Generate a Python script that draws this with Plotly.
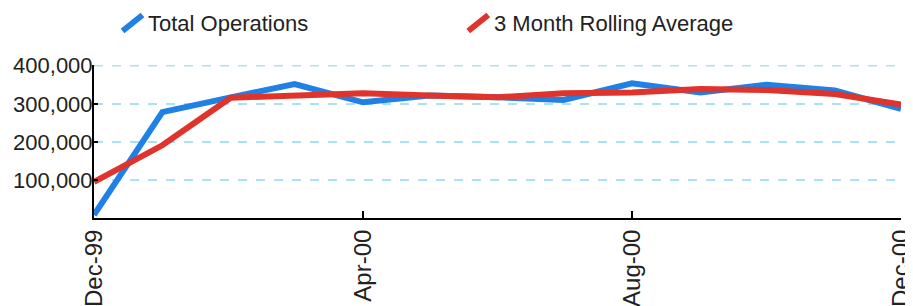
import plotly.graph_objects as go

months = ["1999-12-01", "2000-01-01", "2000-02-01", "2000-03-01", "2000-04-01",
          "2000-05-01", "2000-06-01", "2000-07-01", "2000-08-01", "2000-09-01",
          "2000-10-01", "2000-11-01", "2000-12-01"]
total_operations = [8000, 278000, 317000, 352000, 304000, 322000, 317000,
                    310000, 354000, 330000, 350000, 335000, 287000]
rolling_average = [95000, 191000, 316000, 322000, 328000, 322000, 317000,
                   328000, 330000, 339000, 336000, 326000, 298000]
x_tick_vals = ["1999-12-01", "2000-04-01", "2000-08-01", "2000-12-01"]
x_tick_text = ["Dec-99", "Apr-00", "Aug-00", "Dec-00"]
y_tick_vals = [100000, 200000, 300000, 400000]
y_tick_text = ["100,000", "200,000", "300,000", "400,000"]

BLUE = "#1f80e6"
RED = "#e0332b"
GRID = "#a9e3ef"
FONT = "Liberation Sans, Arial, sans-serif"

fig = go.Figure()
fig.add_trace(go.Scatter(x=months, y=total_operations, mode="lines",
                         name="Total Operations",
                         line=dict(color=BLUE, width=6)))
fig.add_trace(go.Scatter(x=months, y=rolling_average, mode="lines",
                         name="3 Month Rolling Average",
                         line=dict(color=RED, width=6)))

# page body has an 8px margin; compensate so the picture lines up
OFF = 8
W, H = 913 - OFF, 306 - OFF
L, R, T, B = 93.5 - OFF, 12, 65 - OFF, 88
pw, ph = W - L - R, H - T - B

def px(xp):
    return (xp - OFF - L) / pw

def py(yp):
    return (H - B - (yp - OFF)) / ph

# custom legend (slanted stroke icons)
legend_items = [("Total Operations", BLUE, 122, 142, 146),
                ("3 Month Rolling Average", RED, 468, 488, 492)]
for label, col, x1, x2, xt in legend_items:
    fig.add_shape(type="line", xref="paper", yref="paper",
                  x0=px(x1), y0=py(31), x1=px(x2), y1=py(15),
                  line=dict(color=col, width=6))
    fig.add_annotation(text=label, xref="paper", yref="paper",
                       x=px(xt), y=py(23), xanchor="left", yanchor="middle",
                       showarrow=False,
                       font=dict(family=FONT, size=22, color="#222222"))

# top gridline (Plotly drops the one at the range edge)
fig.add_shape(type="line", xref="paper", yref="y", layer="below",
              x0=0, x1=1, y0=y_tick_vals[-1], y1=y_tick_vals[-1],
              line=dict(color=GRID, width=1.5, dash="dash"))

fig.update_layout(
    width=W, height=H,
    margin=dict(l=L, r=R, t=T, b=B),
    plot_bgcolor="white", paper_bgcolor="white",
    showlegend=False,
    font=dict(family=FONT, color="#222222"),
)
fig.update_xaxes(
    type="date",
    automargin=False,
    range=[months[0], months[-1]],
    tickvals=x_tick_vals, ticktext=x_tick_text,
    tickangle=-90,
    tickfont=dict(family=FONT, size=24, color="#222222"),
    ticklabeloverflow="allow",
    showline=True, linecolor="black", linewidth=2,
    ticks="inside", ticklen=7, tickcolor="black", tickwidth=2,
    showgrid=False, zeroline=False,
)
fig.update_yaxes(
    automargin=False,
    range=[0, 402000],
    tickvals=y_tick_vals, ticktext=y_tick_text,
    tickfont=dict(family=FONT, size=22, color="#222222"),
    ticklabelstandoff=-5,
    showline=True, linecolor="black", linewidth=2,
    ticks="inside", ticklen=4, tickcolor="black", tickwidth=2,
    showgrid=True, gridcolor=GRID, gridwidth=1.5, griddash="dash",
    zeroline=False,
)

fig.write_html("out.html")
